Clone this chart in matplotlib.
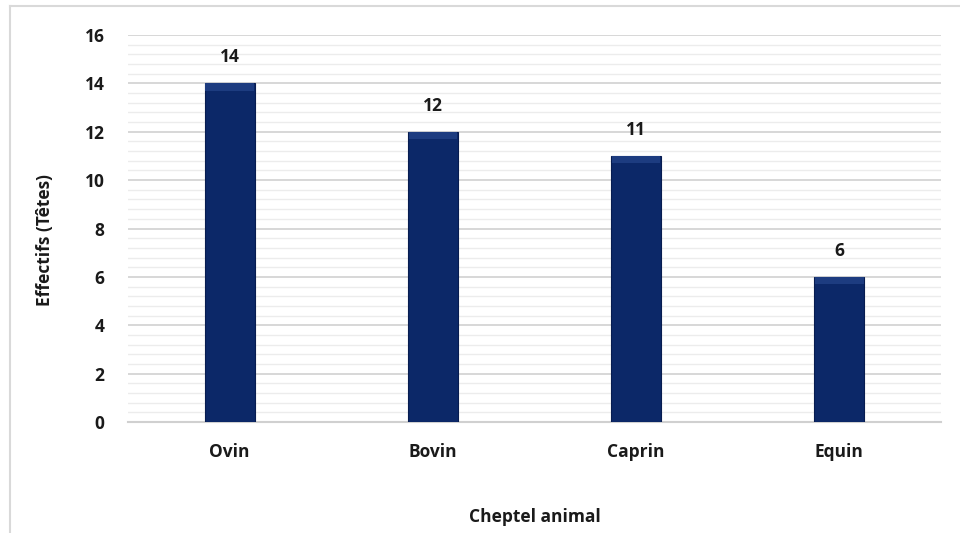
import matplotlib.pyplot as plt
from matplotlib.lines import Line2D
from matplotlib.ticker import MultipleLocator

# data
categories = ["Ovin", "Bovin", "Caprin", "Equin"]
effectifs = [14, 12, 11, 6]

plt.rcParams['font.family'] = ['Open Sans', 'DejaVu Sans']
plt.rcParams['font.weight'] = 'bold'

fig = plt.figure(figsize=(9.6, 5.33), dpi=100)
ax = fig.add_axes([128 / 960, 1 - 422 / 533, (941 - 128) / 960, (422 - 35) / 533])

x = list(range(len(categories)))
bar_w = 0.245
ax.bar(x, effectifs, width=bar_w, color="#0c2868", edgecolor="#071c50", linewidth=0.8, zorder=3)
# soft bevel on top of the bars
ax.bar(x, [0.3] * len(x), bottom=[v - 0.3 for v in effectifs], width=bar_w * 0.97,
       color="#1d3c80", linewidth=0, zorder=4)

fs = 12.5
for xi, v in zip(x, effectifs):
    ax.text(xi, v + 0.7, str(v), ha="center", va="bottom", fontsize=fs, fontweight="bold", color="#1a1a1a")

ax.set_xlim(-0.5, len(categories) - 0.5)
ax.set_ylim(0, 16)
ax.yaxis.set_major_locator(MultipleLocator(2))
ax.yaxis.set_minor_locator(MultipleLocator(0.4))
ax.grid(axis="y", which="major", color="#d4d4d4", linewidth=1.3, zorder=0)
ax.grid(axis="y", which="minor", color="#ececec", linewidth=1.0, zorder=0)
ax.set_axisbelow(True)

for s in ["top", "right", "left"]:
    ax.spines[s].set_visible(False)
ax.spines["bottom"].set_color("#d0d0d0")
ax.spines["bottom"].set_linewidth(1.5)

ax.set_xticks(x)
ax.set_xticklabels(categories)
ax.tick_params(axis="both", which="both", length=0, labelsize=fs, colors="#1a1a1a")
ax.tick_params(axis="x", pad=15)
ax.tick_params(axis="y", pad=17)
for lbl in ax.get_xticklabels() + ax.get_yticklabels():
    lbl.set_fontweight("bold")

fig.text(45 / 960, 1 - 240 / 533, "Effectifs (Têtes)", rotation=90, ha="center", va="center",
         fontsize=fs, fontweight="bold", color="#1a1a1a")
fig.text(535 / 960, 1 - 517 / 533, "Cheptel animal", ha="center", va="center",
         fontsize=fs, fontweight="bold", color="#1a1a1a")

# chart frame
fig.add_artist(Line2D([10 / 960, 10 / 960], [0, 1 - 6 / 533], color="#d9d9d9", linewidth=1.5))
fig.add_artist(Line2D([10 / 960, 1], [1 - 6 / 533, 1 - 6 / 533], color="#d9d9d9", linewidth=1.5))

fig.savefig("out.png", dpi=100)
